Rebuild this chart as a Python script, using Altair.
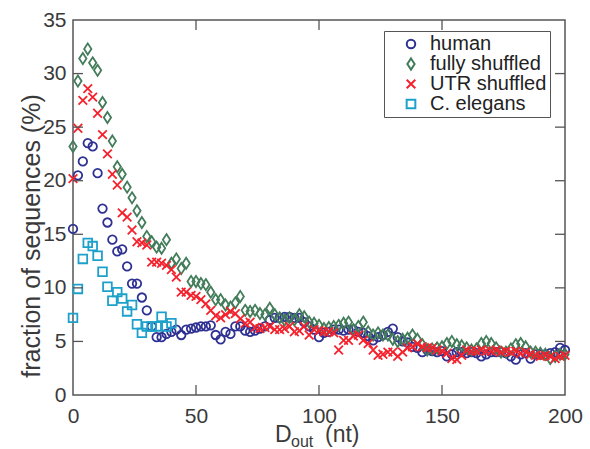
import altair as alt
import pandas as pd

# ---------------- data ----------------
D = list(range(0, 201, 2))
human = [15.5, 20.5, 21.8, 23.5, 23.2, 20.7, 17.4, 16.1, 14.5, 13.4,
         13.6, 12.0, 10.4, 10.4, 9.1, 7.9, 6.4, 5.4, 5.4, 5.7,
         5.9, 6.1, 5.6, 6.1, 6.2, 6.3, 6.4, 6.4, 6.5, 5.6,
         5.2, 5.9, 5.7, 6.4, 6.4, 6.0, 5.9, 6.0, 6.2, 6.4,
         7.0, 7.2, 7.2, 7.3, 7.3, 7.2, 7.2, 6.8, 6.4, 6.1,
         5.4, 5.8, 5.9, 6.1, 6.1, 6.0, 6.1, 6.1, 5.9, 5.8,
         5.5, 5.1, 5.4, 5.6, 5.9, 6.2, 5.4, 5.0, 4.9, 4.5,
         4.4, 4.0, 4.2, 4.1, 4.0, 4.1, 3.6, 3.8, 4.0, 4.0,
         3.9, 4.0, 3.9, 3.6, 3.8, 4.0, 4.0, 4.0, 3.9, 3.6,
         3.3, 3.8, 3.9, 3.4, 3.8, 3.8, 3.8, 3.9, 4.0, 4.4,
         4.2]
fully = [23.2, 29.3, 31.4, 32.3, 31.0, 30.3, 27.3, 25.9, 23.7, 21.3,
         20.6, 19.4, 18.4, 17.2, 16.1, 14.8, 14.3, 13.8, 13.7, 14.5,
         12.3, 12.7, 11.8, 12.3, 10.6, 10.6, 10.4, 10.3, 9.6, 8.9,
         8.9, 8.4, 8.2, 8.6, 9.2, 7.9, 7.8, 7.9, 7.6, 7.5,
         8.1, 7.5, 7.2, 7.0, 7.2, 7.0, 7.5, 7.3, 6.8, 6.7,
         6.5, 6.2, 6.3, 6.4, 6.5, 6.7, 6.8, 6.1, 6.4, 6.8,
         5.9, 5.6, 5.8, 5.6, 5.6, 5.2, 5.0, 5.2, 5.3, 5.6,
         5.2, 4.7, 4.2, 4.3, 4.4, 4.5, 4.8, 5.0, 4.7, 4.6,
         4.4, 4.2, 4.3, 4.8, 5.0, 4.8, 4.4, 4.0, 4.0, 4.3,
         4.7, 4.8, 4.5, 4.0, 4.0, 3.9, 3.8, 3.4, 3.6, 3.8,
         3.8]
utr = [20.2, 24.9, 27.5, 28.6, 27.8, 26.3, 24.3, 22.5, 20.6, 19.6,
       17.0, 16.6, 15.4, 14.3, 14.2, 14.0, 12.4, 12.4, 12.3, 12.1,
       11.7, 11.0, 9.6, 9.6, 9.3, 9.2, 8.9, 8.5, 7.9, 7.4,
       7.2, 7.5, 7.8, 7.6, 7.1, 6.7, 6.8, 6.3, 6.2, 6.3,
       6.4, 6.1, 6.1, 6.2, 6.4, 5.9, 6.0, 6.4, 5.6, 6.1,
       6.0, 5.9, 5.9, 5.8, 4.2, 5.1, 5.1, 5.5, 5.6, 5.1,
       4.8, 4.2, 3.7, 3.8, 4.0, 4.0, 3.6, 4.0, 4.4, 4.5,
       4.8, 4.5, 4.4, 4.4, 4.2, 4.1, 3.9, 3.4, 3.3, 3.7,
       4.2, 4.1, 4.1, 4.2, 4.1, 4.1, 4.2, 4.0, 4.1, 4.0,
       4.1, 3.9, 4.0, 3.8, 3.7, 3.6, 3.7, 3.6, 3.4, 3.6,
       3.7]
D_elegans = list(range(0, 41, 2))
elegans = [7.2, 9.9, 12.7, 14.2, 13.9, 13.0, 11.5, 10.1, 8.8, 9.6,
           9.0, 7.8, 8.4, 6.6, 5.8, 6.4, 6.4, 6.4, 7.3, 6.4, 6.7]

assert len(human) == len(D) == len(fully) == len(utr)
assert len(elegans) == len(D_elegans)

series_names = ["human", "fully shuffled", "UTR shuffled", "C. elegans"]
series_colors = ["#2e3192", "#437c5a", "#f5222d", "#1da1cb"]
series_shapes = ["circle",
                 "M0,-1.3L0.85,0L0,1.3L-0.85,0Z",
                 "M-1,-1L1,1M-1,1L1,-1",
                 "square"]
series_sizes = [72, 75, 62, 52]

x_ticks = [0, 50, 100, 150, 200]
y_ticks = [0, 5, 10, 15, 20, 25, 30, 35]

rows = []
for xs, ys, name in [(D, human, "human"), (D, fully, "fully shuffled"),
                     (D, utr, "UTR shuffled"), (D_elegans, elegans, "C. elegans")]:
    for xv, yv in zip(xs, ys):
        rows.append({"D": xv, "frac": yv, "series": name})
df = pd.DataFrame(rows)

FONT = "Liberation Sans"
TXT = "#3a3a3a"
FRAME = "#555555"
W, H = 492, 375

xscale = alt.Scale(domain=[0, 200], nice=False, zero=False)
yscale = alt.Scale(domain=[0, 35], nice=False)
xaxis = alt.Axis(values=x_ticks, title=None, labelPadding=10, format="d",
                 domain=False, ticks=False, grid=False, labelFlush=False,
                 labelOverlap=False,
                 labelFont=FONT, labelFontSize=21, labelColor=TXT)
yaxis = alt.Axis(values=y_ticks, title=None, labelPadding=7, format="d",
                 domain=False, ticks=False, grid=False, labelFlush=False,
                 labelOverlap=False,
                 labelFont=FONT, labelFontSize=21, labelColor=TXT)

points = alt.Chart(df).mark_point(filled=False, strokeWidth=1.8, opacity=1).encode(
    x=alt.X("D:Q", scale=xscale, axis=xaxis),
    y=alt.Y("frac:Q", scale=yscale, axis=yaxis),
    color=alt.Color("series:N", sort=series_names,
                    scale=alt.Scale(domain=series_names, range=series_colors),
                    legend=alt.Legend(orient="none", legendX=311, legendY=11, title=None,
                                      labelFont=FONT, labelFontSize=20, labelColor="#222222",
                                      symbolSize=32, symbolStrokeWidth=2, symbolOffset=14,
                                      labelOffset=9, padding=3, rowPadding=-3,
                                      strokeColor=FRAME, fillColor="white",
                                      labelLimit=300)),
    shape=alt.Shape("series:N", sort=series_names,
                    scale=alt.Scale(domain=series_names, range=series_shapes)),
    size=alt.Size("series:N", scale=alt.Scale(domain=series_names, range=series_sizes),
                  legend=None),
)

xt = pd.DataFrame({"D": x_ticks[1:-1]})
yt = pd.DataFrame({"frac": y_ticks[1:-1]})
TL = 10
rule_style = dict(color=FRAME, strokeWidth=1.3)
tick_bottom = alt.Chart(xt).mark_rule(**rule_style).encode(
    x=alt.X("D:Q", scale=xscale, axis=xaxis), y=alt.value(H), y2=alt.value(H - TL))
tick_top = alt.Chart(xt).mark_rule(**rule_style).encode(
    x=alt.X("D:Q", scale=xscale, axis=xaxis), y=alt.value(0), y2=alt.value(TL))
tick_left = alt.Chart(yt).mark_rule(**rule_style).encode(
    y=alt.Y("frac:Q", scale=yscale, axis=yaxis), x=alt.value(0), x2=alt.value(TL))
tick_right = alt.Chart(yt).mark_rule(**rule_style).encode(
    y=alt.Y("frac:Q", scale=yscale, axis=yaxis), x=alt.value(W), x2=alt.value(W - TL))

def label(text, x, y, size, angle=0, align="left", baseline="alphabetic"):
    kw = dict(font=FONT, fontSize=size, color=TXT, align=align, baseline=baseline)
    if angle:
        kw["angle"] = angle
    return alt.Chart(pd.DataFrame({"t": [text]})).mark_text(**kw).encode(
        x=alt.value(x), y=alt.value(y), text="t:N")

x_title_main = label("D", 202, 422, 23)
x_title_sub = label("out", 218, 427, 16)
x_title_unit = label("(nt)", 252, 422, 23)
y_title = label("fraction of sequences (%)", -41, 216, 25, angle=270,
                align="center", baseline="middle")

chart = alt.layer(
    points,
    tick_bottom, tick_top, tick_left, tick_right,
    x_title_main, x_title_sub, x_title_unit, y_title,
).properties(
    width=W, height=H,
    padding={"left": 73, "top": 20, "right": 25, "bottom": 54},
    autosize=alt.AutoSizeParams(type="none"),
    background="white",
).configure_view(
    stroke=FRAME, strokeWidth=1.5
)

chart.save("out.html", embed_options={"renderer": "svg", "actions": False})
